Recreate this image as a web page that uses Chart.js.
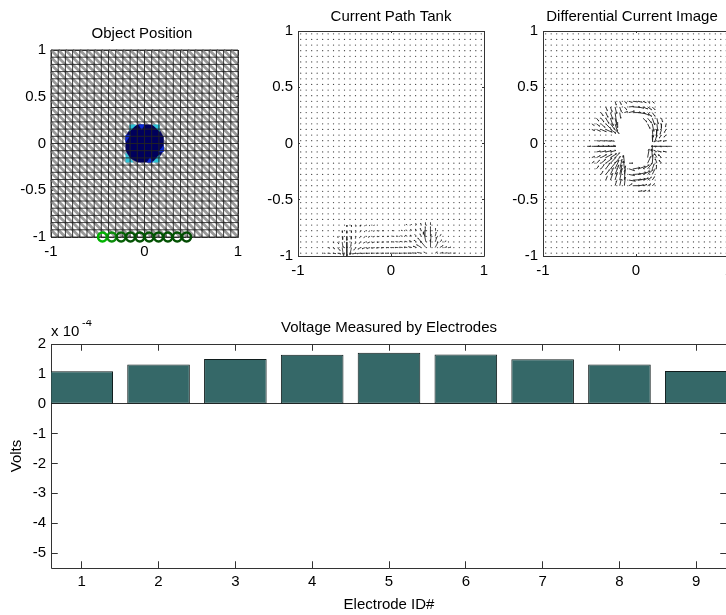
<!DOCTYPE html>
<html>
<head>
<meta charset="utf-8">
<title>Electrode current tank</title>
<script src="https://cdn.jsdelivr.net/npm/chart.js@4"></script>
<style>
    html, body { margin: 0; padding: 0; background: #fff; width: 726px; height: 615px; overflow: hidden; }
    canvas { position: absolute; }
</style>
</head>
<body>
<canvas id="position"></canvas>
<canvas id="tank"></canvas>
<canvas id="differential"></canvas>
<canvas id="voltage"></canvas>
<script>
// bar chart
const electrodeIds = [1, 2, 3, 4, 5, 6, 7, 8, 9];
const electrodeVolts = [1.09, 1.31, 1.50, 1.64, 1.71, 1.65, 1.49, 1.31, 1.10];
const voltTicks = [2, 1, 0, -1, -2, -3, -4, -5];

// tick labels of the three square panels
const unitTicks = [-1, 0, 1];
const halfTicks = [-1, -0.5, 0, 0.5, 1];

// object position panel
const meshStops = [-1, -0.923, -0.846, -0.769, -0.692, -0.615, -0.538, -0.462, -0.385, -0.308, -0.231, -0.154, -0.077, 0,
    0.077, 0.154, 0.231, 0.308, 0.385, 0.462, 0.538, 0.615, 0.692, 0.769, 0.846, 0.923, 1];
const objectOutline = [[-0.077, 0.2], [0.077, 0.2], [0.154, 0.154], [0.2, 0.077], [0.2, -0.077], [0.154, -0.154],
    [0.077, -0.2], [-0.077, -0.2], [-0.154, -0.154], [-0.2, -0.077], [-0.2, 0.077], [-0.154, 0.154]];
const cyanEdges = [
    [[-0.16, 0.2], [-0.09, 0.2], [-0.16, 0.13]],
    [[0.09, 0.2], [0.16, 0.2], [0.16, 0.13]],
    [[-0.2, -0.1], [-0.12, -0.2], [-0.2, -0.2]],
    [[0.09, -0.2], [0.16, -0.2], [0.16, -0.12]]
];
const blueEdges = [
    [[-0.06, 0.2], [0, 0.2], [-0.03, 0.15]],
    [[-0.2, 0.09], [-0.15, 0.09], [-0.2, 0.02]],
    [[0.2, -0.03], [0.2, -0.09], [0.15, -0.09]],
    [[0.03, -0.2], [0.09, -0.2], [0.06, -0.15]]
];
const electrodeX = [-0.45, -0.35, -0.25, -0.15, -0.05, 0.05, 0.15, 0.25, 0.35, 0.45];
const electrodeColors = ['#00b400', '#0a8c0a', '#056005', '#035203', '#035203', '#035203', '#035203', '#035203', '#035203', '#024a02'];

// quiver grid and the arrows long enough to read, as [x, y, u, v]
const fieldColumns = [-0.971, -0.912, -0.853, -0.794, -0.735, -0.676, -0.618, -0.559, -0.5, -0.441, -0.382, -0.324, -0.265, -0.206, -0.147, -0.088, -0.029,
    0.029, 0.088, 0.147, 0.206, 0.265, 0.324, 0.382, 0.441, 0.5, 0.559, 0.618, 0.676, 0.735, 0.794, 0.853, 0.912, 0.971];
const fieldRows = [-0.975, -0.925, -0.875, -0.825, -0.775, -0.725, -0.675, -0.625, -0.575, -0.525, -0.475, -0.425, -0.375, -0.325, -0.275, -0.225, -0.175, -0.125, -0.075, -0.025,
    0.025, 0.075, 0.125, 0.175, 0.225, 0.275, 0.325, 0.375, 0.425, 0.475, 0.525, 0.575, 0.625, 0.675, 0.725, 0.775, 0.825, 0.875, 0.925, 0.975];

const tankArrows = [
    [-0.725, -0.975, 0.04, -0.003], [-0.675, -0.975, 0.05, -0.005], [-0.625, -0.975, 0.07, -0.008], [-0.575, -0.975, 0.08, -0.015], [-0.525, -0.975, 0.045, -0.02],
    [-0.425, -0.975, -0.05, -0.02], [-0.375, -0.975, -0.09, -0.012], [-0.325, -0.975, -0.1, -0.006], [-0.275, -0.975, -0.1, -0.004], [-0.225, -0.975, -0.095, -0.002],
    [-0.175, -0.975, -0.09, 0], [-0.125, -0.975, -0.085, 0], [-0.075, -0.975, -0.08, 0], [-0.025, -0.975, -0.08, 0], [0.025, -0.975, -0.08, 0], [0.075, -0.975, -0.08, 0],
    [0.125, -0.975, -0.085, 0], [0.175, -0.975, -0.09, 0.002], [0.225, -0.975, -0.095, 0.004], [0.275, -0.975, -0.1, 0.006], [0.325, -0.975, -0.09, 0.015], [0.375, -0.975, -0.05, 0.025],
    [0.475, -0.975, 0.05, 0.025], [0.525, -0.975, 0.08, 0.012], [0.575, -0.975, 0.07, 0.006], [0.625, -0.975, 0.05, 0.004], [0.675, -0.975, 0.04, 0.002],

    [-0.675, -0.925, 0.04, -0.012], [-0.625, -0.925, 0.045, -0.025], [-0.575, -0.925, 0.06, -0.06], [-0.525, -0.925, 0.03, -0.16], [-0.475, -0.925, 0, -0.17], [-0.425, -0.925, -0.035, -0.13],
    [-0.375, -0.925, -0.06, -0.05], [-0.325, -0.925, -0.07, -0.03], [-0.275, -0.925, -0.08, -0.022], [-0.225, -0.925, -0.08, -0.018], [-0.175, -0.925, -0.075, -0.012], [-0.125, -0.925, -0.07, -0.008],
    [-0.075, -0.925, -0.07, -0.004], [-0.025, -0.925, -0.065, 0], [0.025, -0.925, -0.065, 0], [0.075, -0.925, -0.07, 0.003], [0.125, -0.925, -0.07, 0.008], [0.175, -0.925, -0.075, 0.012],
    [0.225, -0.925, -0.08, 0.018], [0.275, -0.925, -0.08, 0.028], [0.325, -0.925, -0.11, 0.06], [0.375, -0.925, -0.13, 0.13], [0.425, -0.925, 0.0, 0.16], [0.475, -0.925, 0.07, 0.11],
    [0.525, -0.925, 0.08, 0.04], [0.575, -0.925, 0.06, 0.015], [0.625, -0.925, 0.045, 0.008],

    [-0.625, -0.875, 0.025, -0.022], [-0.575, -0.875, 0.03, -0.04], [-0.525, -0.875, 0.02, -0.11], [-0.475, -0.875, 0, -0.12], [-0.425, -0.875, -0.02, -0.09], [-0.375, -0.875, -0.03, -0.04],
    [-0.325, -0.875, -0.045, -0.03], [-0.275, -0.875, -0.055, -0.025], [-0.225, -0.875, -0.06, -0.02], [-0.175, -0.875, -0.06, -0.014], [-0.125, -0.875, -0.055, -0.009], [-0.075, -0.875, -0.055, -0.005],
    [-0.025, -0.875, -0.05, 0], [0.025, -0.875, -0.05, 0.003], [0.075, -0.875, -0.055, 0.006], [0.125, -0.875, -0.055, 0.01], [0.175, -0.875, -0.06, 0.016], [0.225, -0.875, -0.06, 0.024],
    [0.275, -0.875, -0.06, 0.035], [0.325, -0.875, -0.08, 0.08], [0.375, -0.875, -0.05, 0.2], [0.425, -0.875, 0.015, 0.15], [0.475, -0.875, 0.04, 0.09], [0.525, -0.875, 0.05, 0.04], [0.575, -0.875, 0.04, 0.02],

    [-0.575, -0.825, 0.012, -0.03], [-0.525, -0.825, 0.01, -0.07], [-0.475, -0.825, 0, -0.08], [-0.425, -0.825, -0.01, -0.06], [-0.375, -0.825, -0.02, -0.04], [-0.325, -0.825, -0.03, -0.03],
    [-0.275, -0.825, -0.04, -0.025], [-0.225, -0.825, -0.045, -0.018], [-0.175, -0.825, -0.045, -0.012], [-0.125, -0.825, -0.04, -0.008], [-0.075, -0.825, -0.04, -0.004], [-0.025, -0.825, -0.04, 0],
    [0.025, -0.825, -0.04, 0.003], [0.075, -0.825, -0.04, 0.006], [0.125, -0.825, -0.045, 0.01], [0.175, -0.825, -0.045, 0.018], [0.225, -0.825, -0.045, 0.026], [0.275, -0.825, -0.04, 0.035],
    [0.325, -0.825, -0.03, 0.05], [0.375, -0.825, -0.02, 0.12], [0.425, -0.825, 0.005, 0.12], [0.475, -0.825, 0.025, 0.08], [0.525, -0.825, 0.03, 0.04],

    [-0.525, -0.775, 0.004, -0.04], [-0.475, -0.775, 0, -0.05], [-0.425, -0.775, -0.004, -0.04], [-0.375, -0.775, -0.012, -0.035], [-0.325, -0.775, -0.02, -0.03], [-0.275, -0.775, -0.028, -0.024],
    [-0.225, -0.775, -0.032, -0.016], [-0.175, -0.775, -0.034, -0.01], [-0.125, -0.775, -0.034, -0.006], [-0.075, -0.775, -0.032, -0.003], [0.025, -0.775, -0.03, 0.003], [0.125, -0.775, -0.034, 0.01],
    [0.175, -0.775, -0.034, 0.016], [0.225, -0.775, -0.032, 0.024], [0.275, -0.775, -0.028, 0.034], [0.325, -0.775, -0.02, 0.042], [0.375, -0.775, -0.012, 0.08], [0.425, -0.775, 0.003, 0.08], [0.475, -0.775, 0.012, 0.05],

    [-0.475, -0.725, 0, -0.035], [-0.425, -0.725, -0.002, -0.032], [-0.375, -0.725, -0.008, -0.03], [-0.325, -0.725, -0.014, -0.026], [-0.275, -0.725, -0.02, -0.02], [-0.225, -0.725, -0.024, -0.014],
    [-0.175, -0.725, -0.026, -0.008], [0.175, -0.725, -0.026, 0.014], [0.225, -0.725, -0.024, 0.02], [0.275, -0.725, -0.02, 0.026], [0.325, -0.725, -0.014, 0.034], [0.375, -0.725, -0.008, 0.05], [0.425, -0.725, 0.002, 0.05]
];

const differentialArrows = [
    [-0.475, -0.025, 0.1, 0], [-0.425, -0.025, 0.1, 0], [-0.375, -0.025, 0.11, 0], [-0.325, -0.025, 0.12, 0], [-0.275, -0.025, 0.07, 0], [-0.525, -0.025, 0.05, 0],
    [0.375, -0.025, -0.06, 0], [0.325, -0.025, -0.08, 0], [0.275, -0.025, -0.09, 0], [0.225, -0.025, -0.07, 0],
    [-0.425, 0.025, 0.04, -0.004], [-0.375, 0.025, 0.05, -0.004], [-0.325, 0.025, 0.06, -0.006], [-0.275, 0.025, 0.05, -0.006], [-0.425, -0.075, 0.05, 0.008], [-0.375, -0.075, 0.06, 0.01], [-0.325, -0.075, 0.07, 0.012], [-0.275, -0.075, 0.07, 0.015],
    [0.275, 0.025, -0.05, -0.006], [0.225, 0.025, -0.04, -0.01], [0.325, 0.025, -0.04, -0.004], [0.275, -0.075, -0.05, 0.01], [0.325, -0.075, -0.04, 0.008], [0.225, -0.075, -0.04, 0.02],

    [-0.475, 0.125, 0.035, -0.012], [-0.425, 0.125, 0.05, -0.02], [-0.375, 0.125, 0.065, -0.025], [-0.325, 0.125, 0.08, -0.03], [-0.275, 0.125, 0.07, -0.04], [-0.225, 0.125, 0.05, -0.045],
    [-0.475, 0.175, 0.03, -0.018], [-0.425, 0.175, 0.04, -0.025], [-0.375, 0.175, 0.05, -0.04], [-0.325, 0.175, 0.06, -0.05], [-0.275, 0.175, 0.055, -0.06], [-0.225, 0.175, 0.03, -0.08],
    [-0.425, 0.225, 0.03, -0.03], [-0.375, 0.225, 0.035, -0.04], [-0.325, 0.225, 0.04, -0.055], [-0.275, 0.225, 0.035, -0.08], [-0.225, 0.225, 0.03, -0.1],
    [-0.375, 0.275, 0.025, -0.035], [-0.325, 0.275, 0.028, -0.05], [-0.275, 0.275, 0.03, -0.07], [-0.225, 0.275, 0.025, -0.13], [-0.175, 0.275, 0.012, -0.06],
    [-0.325, 0.325, 0.02, -0.04], [-0.275, 0.325, 0.02, -0.05], [-0.225, 0.325, 0.02, -0.07], [-0.175, 0.325, 0.02, -0.05], [-0.125, 0.325, 0.03, -0.03],
    [-0.225, 0.375, 0.015, -0.04], [-0.175, 0.375, 0.02, -0.035], [-0.125, 0.375, 0.03, -0.02], [-0.075, 0.375, 0.04, -0.012],

    [-0.125, 0.275, 0.04, 0.01], [-0.075, 0.275, 0.07, 0.015], [-0.025, 0.275, 0.09, 0], [0.025, 0.275, 0.09, -0.012], [0.075, 0.275, 0.08, -0.03], [0.125, 0.275, 0.05, -0.04], [0.175, 0.275, 0.035, -0.04],
    [-0.075, 0.325, 0.06, 0.005], [-0.025, 0.325, 0.08, -0.004], [0.025, 0.325, 0.07, -0.014], [0.075, 0.325, 0.06, -0.022], [0.125, 0.325, 0.05, -0.03], [0.175, 0.325, 0.035, -0.03],
    [-0.025, 0.375, 0.05, -0.006], [0.025, 0.375, 0.05, -0.01], [0.075, 0.375, 0.04, -0.015], [0.125, 0.375, 0.03, -0.02], [0.175, 0.375, 0.025, -0.02],
    [0.075, 0.225, 0.05, -0.04], [0.125, 0.225, 0.05, -0.05], [0.175, 0.225, 0.03, -0.07], [0.225, 0.225, 0.015, -0.06], [0.275, 0.225, 0.012, -0.04],
    [0.125, 0.175, 0.03, -0.05], [0.175, 0.175, 0.02, -0.08], [0.225, 0.175, 0.01, -0.075], [0.275, 0.175, -0.005, -0.05], [0.325, 0.175, -0.01, -0.03],
    [0.175, 0.125, 0.01, -0.08], [0.225, 0.125, -0.005, -0.08], [0.275, 0.125, -0.02, -0.05], [0.325, 0.125, -0.025, -0.03],
    [0.175, 0.075, 0.0, -0.07], [0.225, 0.075, -0.02, -0.05], [0.275, 0.075, -0.03, -0.03], [0.325, 0.075, -0.03, -0.02],

    [-0.475, -0.125, 0.035, 0.012], [-0.425, -0.125, 0.05, 0.02], [-0.375, -0.125, 0.07, 0.03], [-0.325, -0.125, 0.08, 0.035], [-0.275, -0.125, 0.08, 0.04], [-0.225, -0.125, 0.06, 0.05],
    [-0.475, -0.175, 0.03, 0.018], [-0.425, -0.175, 0.04, 0.03], [-0.375, -0.175, 0.06, 0.04], [-0.325, -0.175, 0.08, 0.05], [-0.275, -0.175, 0.07, 0.06], [-0.225, -0.175, 0.07, 0.07],
    [-0.425, -0.225, 0.03, 0.03], [-0.375, -0.225, 0.04, 0.045], [-0.325, -0.225, 0.055, 0.06], [-0.275, -0.225, 0.07, 0.07], [-0.225, -0.225, 0.05, 0.09], [-0.175, -0.225, 0.03, 0.1],
    [-0.375, -0.275, 0.025, 0.035], [-0.325, -0.275, 0.05, 0.05], [-0.275, -0.275, 0.04, 0.07], [-0.225, -0.275, 0.05, 0.1], [-0.175, -0.275, 0.03, 0.1], [-0.125, -0.275, 0.015, 0.09],
    [-0.325, -0.325, 0.02, 0.04], [-0.275, -0.325, 0.03, 0.07], [-0.225, -0.325, 0.03, 0.08], [-0.175, -0.325, 0.03, 0.12], [-0.125, -0.325, 0.01, 0.11],
    [-0.225, -0.375, 0.02, 0.05], [-0.175, -0.375, 0.02, 0.07], [-0.125, -0.375, 0.012, 0.09], [-0.075, -0.375, 0.04, 0.02],
    [-0.125, -0.175, -0.01, 0.08], [-0.125, -0.225, -0.01, 0.08],

    [-0.075, -0.175, 0.05, 0], [-0.075, -0.225, 0.07, -0.02], [-0.025, -0.225, 0.08, 0.012], [0.025, -0.225, 0.09, 0.025], [0.075, -0.225, 0.08, 0.04], [0.125, -0.225, 0.06, 0.06], [0.175, -0.225, 0.025, 0.05],
    [-0.075, -0.275, 0.07, -0.012], [-0.025, -0.275, 0.09, 0.006], [0.025, -0.275, 0.1, 0.02], [0.075, -0.275, 0.09, 0.035], [0.125, -0.275, 0.07, 0.05], [0.175, -0.275, 0.03, 0.05],
    [-0.075, -0.325, 0.08, -0.012], [-0.025, -0.325, 0.1, 0.004], [0.025, -0.325, 0.09, 0.012], [0.075, -0.325, 0.07, 0.02], [0.125, -0.325, 0.05, 0.03], [0.175, -0.325, 0.03, 0.035],
    [-0.025, -0.375, 0.08, 0], [0.025, -0.375, 0.07, 0.006], [0.075, -0.375, 0.05, 0.012], [0.125, -0.375, 0.04, 0.018], [0.175, -0.375, 0.03, 0.02],
    [0.025, -0.425, 0.05, 0.004], [0.075, -0.425, 0.04, 0.008], [0.125, -0.425, 0.03, 0.012],
    [0.125, -0.175, 0.04, 0.07], [0.125, -0.125, 0.02, 0.09], [0.175, -0.175, 0.01, 0.09], [0.175, -0.125, -0.005, 0.09], [0.175, -0.075, 0, 0.07],
    [0.225, -0.125, -0.03, 0.04], [0.225, -0.175, -0.02, 0.045], [0.275, -0.125, -0.04, 0.03], [0.275, -0.175, -0.03, 0.03], [0.225, -0.225, -0.005, 0.04]
];

// The part around the object where the differential field shows no dots
const objectHole = { left: -0.21, right: 0.16, bottom: -0.2, top: 0.24 };

// Fixed spots of the figure in the window
const positionBox = { left: 51, right: 238, top: 50, bottom: 237, canvasLeft: 0, titleX: 142, titleY: 34 };
const tankBox = { left: 298, right: 484, top: 31, bottom: 256, canvasLeft: 248, titleX: 391, titleY: 17 };
const differentialBox = { left: 543, right: 729, top: 31, bottom: 256, canvasLeft: 493, titleX: 632, titleY: 17 };
const voltageBox = { left: 51, right: 727, top: 344, bottom: 568, canvasLeft: 0, titleX: 388.5, titleY: 328 };

const TITLE_LINE = 16;
const FONT_SIZE = 15;
const FONT_FAMILY = '"Liberation Sans", Arial, sans-serif';

Chart.defaults.font.family = FONT_FAMILY;
Chart.defaults.font.size = FONT_SIZE;
Chart.defaults.color = '#000';

const gap = { x: null, y: null };

/**
 * Draws the MATLAB style box: a frame on all four sides, with the ticks pointing inwards.
 */
const axesBox = (tickLength, baseline) => ({
    id: 'axesBox',
    beforeDatasetsDraw(chart) {
        const { ctx, chartArea: area, scales: { x, y } } = chart;
        const snap = value => Math.floor(value) + 0.5;
        
        ctx.save();
        ctx.strokeStyle = '#333';
        ctx.lineWidth = 1;
        ctx.beginPath();
        ctx.rect(snap(area.left), snap(area.top), Math.round(area.width), Math.round(area.height));
        
        x.ticks.forEach(tick => {
            const px = snap(x.getPixelForValue(tick.value));
            ctx.moveTo(px, area.top);
            ctx.lineTo(px, area.top + tickLength);
            ctx.moveTo(px, area.bottom);
            ctx.lineTo(px, area.bottom - tickLength);
        });
        
        y.ticks.forEach(tick => {
            const py = snap(y.getPixelForValue(tick.value));
            ctx.moveTo(area.left, py);
            ctx.lineTo(area.left + tickLength, py);
            ctx.moveTo(area.right, py);
            ctx.lineTo(area.right - tickLength, py);
        });
        
        if (baseline) {
            const py = snap(y.getPixelForValue(0));
            ctx.moveTo(area.left, py);
            ctx.lineTo(area.right, py);
        }
        
        ctx.stroke();
        ctx.restore();
    }
});

// The y labels get clipped to their scale, which is narrow where the title box was shifted
const wideLabels = {
    id: 'wideLabels',
    afterLayout(chart) {
        chart.scales.y.left = 0;
    }
};

// The exponent MATLAB prints above the y axis
const exponentLabel = {
    id: 'exponentLabel',
    afterDraw(chart) {
        const { ctx, chartArea: area } = chart;
        
        ctx.save();
        ctx.fillStyle = '#000';
        ctx.textBaseline = 'middle';
        ctx.font = `${FONT_SIZE}px ${FONT_FAMILY}`;
        ctx.fillText('x 10', area.left, area.top - 12);
        ctx.font = `11px ${FONT_FAMILY}`;
        ctx.fillText('-4', area.left + 31, area.top - 21);
        ctx.restore();
    }
};

const axisOptions = (values, min, max, fixedSize, padding, title) => ({
    type: 'linear',
    min,
    max,
    offset: false,
    grid: { display: false, drawTicks: false, offset: false },
    border: { display: false },
    title,
    afterBuildTicks: scale => {
        scale.ticks = values.map(value => ({ value }));
    },
    afterFit: scale => {
        if (scale.isHorizontal()) {
            scale.height = fixedSize;
        } else {
            scale.width = fixedSize;
        }
    },
    ticks: {
        padding,
        autoSkip: false,
        maxRotation: 0,
        includeBounds: false,
        callback: value => String(value)
    }
});

/**
 * Positions one canvas, so that the plot area lands on box, and starts the chart on it.
 * The left padding shifts the title box, as MATLAB does not quite center these titles.
 */
const makePanel = (id, box, titleText, config) => {
    const canvas = document.getElementById(id);
    const titlePadding = box.top - box.titleY - TITLE_LINE / 2;
    const canvasTop = box.top - TITLE_LINE - titlePadding;
    const canvasWidth = box.right - box.canvasLeft + 30;
    
    canvas.width = canvasWidth;
    canvas.height = box.bottom - canvasTop + config.bottomSpace;
    canvas.style.left = `${box.canvasLeft}px`;
    canvas.style.top = `${canvasTop}px`;
    
    return new Chart(canvas, {
        type: config.type,
        data: { datasets: config.datasets },
        plugins: config.plugins,
        options: {
            responsive: false,
            animation: false,
            devicePixelRatio: 1,
            events: [],
            layout: { padding: { top: 0, bottom: 0, left: config.leftPadding, right: 30 } },
            scales: { x: config.x, y: config.y },
            plugins: {
                legend: { display: false },
                tooltip: { enabled: false },
                title: {
                    display: true,
                    text: titleText,
                    color: '#000',
                    fullSize: config.titleFullSize,
                    font: { size: FONT_SIZE, weight: 'normal', lineHeight: `${TITLE_LINE}px` },
                    padding: { top: 0, bottom: titlePadding }
                }
            }
        }
    });
};

const lineLayer = (data, color, width, order) => ({
    data,
    order,
    showLine: true,
    borderColor: color,
    borderWidth: width,
    pointRadius: 0,
    clip: false
});

const polygonLayer = (corners, color, order) => ({
    data: [...corners, corners[0]].map(([x, y]) => ({ x, y })),
    order,
    showLine: true,
    fill: 'shape',
    backgroundColor: color,
    borderColor: color,
    borderWidth: 0.5,
    pointRadius: 0
});

const meshGridPoints = () => {
    const first = meshStops[0];
    const last = meshStops[meshStops.length - 1];
    
    return meshStops.flatMap(stop => [
        { x: stop, y: first }, { x: stop, y: last }, gap,
        { x: first, y: stop }, { x: last, y: stop }, gap
    ]);
};

const meshDiagonalPoints = () => meshStops.slice(1).flatMap((right, i) => (
    meshStops.slice(1).flatMap((top, j) => [
        { x: meshStops[i], y: top }, { x: right, y: meshStops[j] }, gap
    ])
));

const insideHole = (point, hole) => hole && point.x > hole.left && point.x < hole.right && point.y > hole.bottom && point.y < hole.top;

const fieldDots = hole => fieldRows
    .flatMap(y => fieldColumns.map(x => ({ x, y })))
    .filter(point => !insideHole(point, hole));

const arrowSegments = (arrows, scale) => arrows.flatMap(([x, y, rawU, rawV]) => {
    const u = rawU * scale;
    const v = rawV * scale;
    const tip = { x: x + u, y: y + v };
    
    return [
        { x, y }, tip,
        { x: tip.x - 0.22 * u - 0.1 * v, y: tip.y - 0.22 * v + 0.1 * u },
        gap
    ];
});

const quiverPanel = (id, box, titleText, arrows, scale, lineWidth, hole) => {
    const leftPadding = 2 * box.titleX - box.right - box.canvasLeft;
    
    return makePanel(id, box, titleText, {
        type: 'scatter',
        bottomSpace: 28,
        leftPadding,
        titleFullSize: true,
        plugins: [axesBox(2, false), wideLabels],
        x: axisOptions(unitTicks, -1, 1, 28, 6),
        y: axisOptions(halfTicks, -1, 1, box.left - box.canvasLeft - leftPadding, 5),
        datasets: [
            { data: fieldDots(hole), order: 2, pointRadius: 0.65, pointBackgroundColor: '#444', pointBorderWidth: 0 },
            { ...lineLayer(arrowSegments(arrows, scale), '#222', lineWidth, 1), clip: true }
        ]
    });
};

const positionPadding = 2 * positionBox.titleX - positionBox.right - positionBox.canvasLeft;

makePanel('position', positionBox, 'Object Position', {
    type: 'scatter',
    bottomSpace: 28,
    leftPadding: positionPadding,
    titleFullSize: true,
    plugins: [axesBox(2, false), wideLabels],
    x: axisOptions(unitTicks, -1, 1, 28, 6),
    y: axisOptions(halfTicks, -1, 1, positionBox.left - positionBox.canvasLeft - positionPadding, 5),
    datasets: [
        lineLayer(meshDiagonalPoints(), '#999', 2.8, 9),
        polygonLayer(objectOutline, '#00005c', 8),
        ...cyanEdges.map(corners => polygonLayer(corners, '#2cc4d8', 7)),
        ...blueEdges.map(corners => polygonLayer(corners, '#0a2ad8', 7)),
        lineLayer(meshGridPoints(), '#222', 0.9, 6),
        {
            data: electrodeX.map(x => ({ x, y: -1 })),
            order: 1,
            clip: false,
            pointRadius: 4.4,
            pointBorderWidth: 2.5,
            pointBorderColor: electrodeColors,
            pointBackgroundColor: 'transparent'
        }
    ]
});

quiverPanel('tank', tankBox, 'Current Path Tank', tankArrows, 0.45, 0.8);
quiverPanel('differential', differentialBox, 'Differential Current Image', differentialArrows, 0.85, 0.9, objectHole);

makePanel('voltage', voltageBox, 'Voltage Measured by Electrodes', {
    type: 'bar',
    bottomSpace: 46,
    leftPadding: 0,
    titleFullSize: false,
    plugins: [axesBox(6.75, true), exponentLabel],
    x: axisOptions(electrodeIds, 0.6, 9.4, 46, 5, {
        display: true,
        text: 'Electrode ID#',
        color: '#000',
        font: { size: FONT_SIZE },
        padding: { top: 4, bottom: 0 }
    }),
    y: axisOptions(voltTicks, -5.5, 2, voltageBox.left - voltageBox.canvasLeft, 5, {
        display: true,
        text: 'Volts',
        color: '#000',
        font: { size: FONT_SIZE },
        padding: { top: 8, bottom: 0 }
    }),
    datasets: [
        {
            data: electrodeIds.map((id, i) => ({ x: id, y: electrodeVolts[i] })),
            backgroundColor: '#356868',
            borderColor: '#101c1c',
            borderWidth: 1,
            borderSkipped: false,
            categoryPercentage: 1,
            barPercentage: 0.815
        }
    ]
});
</script>
</body>
</html>
